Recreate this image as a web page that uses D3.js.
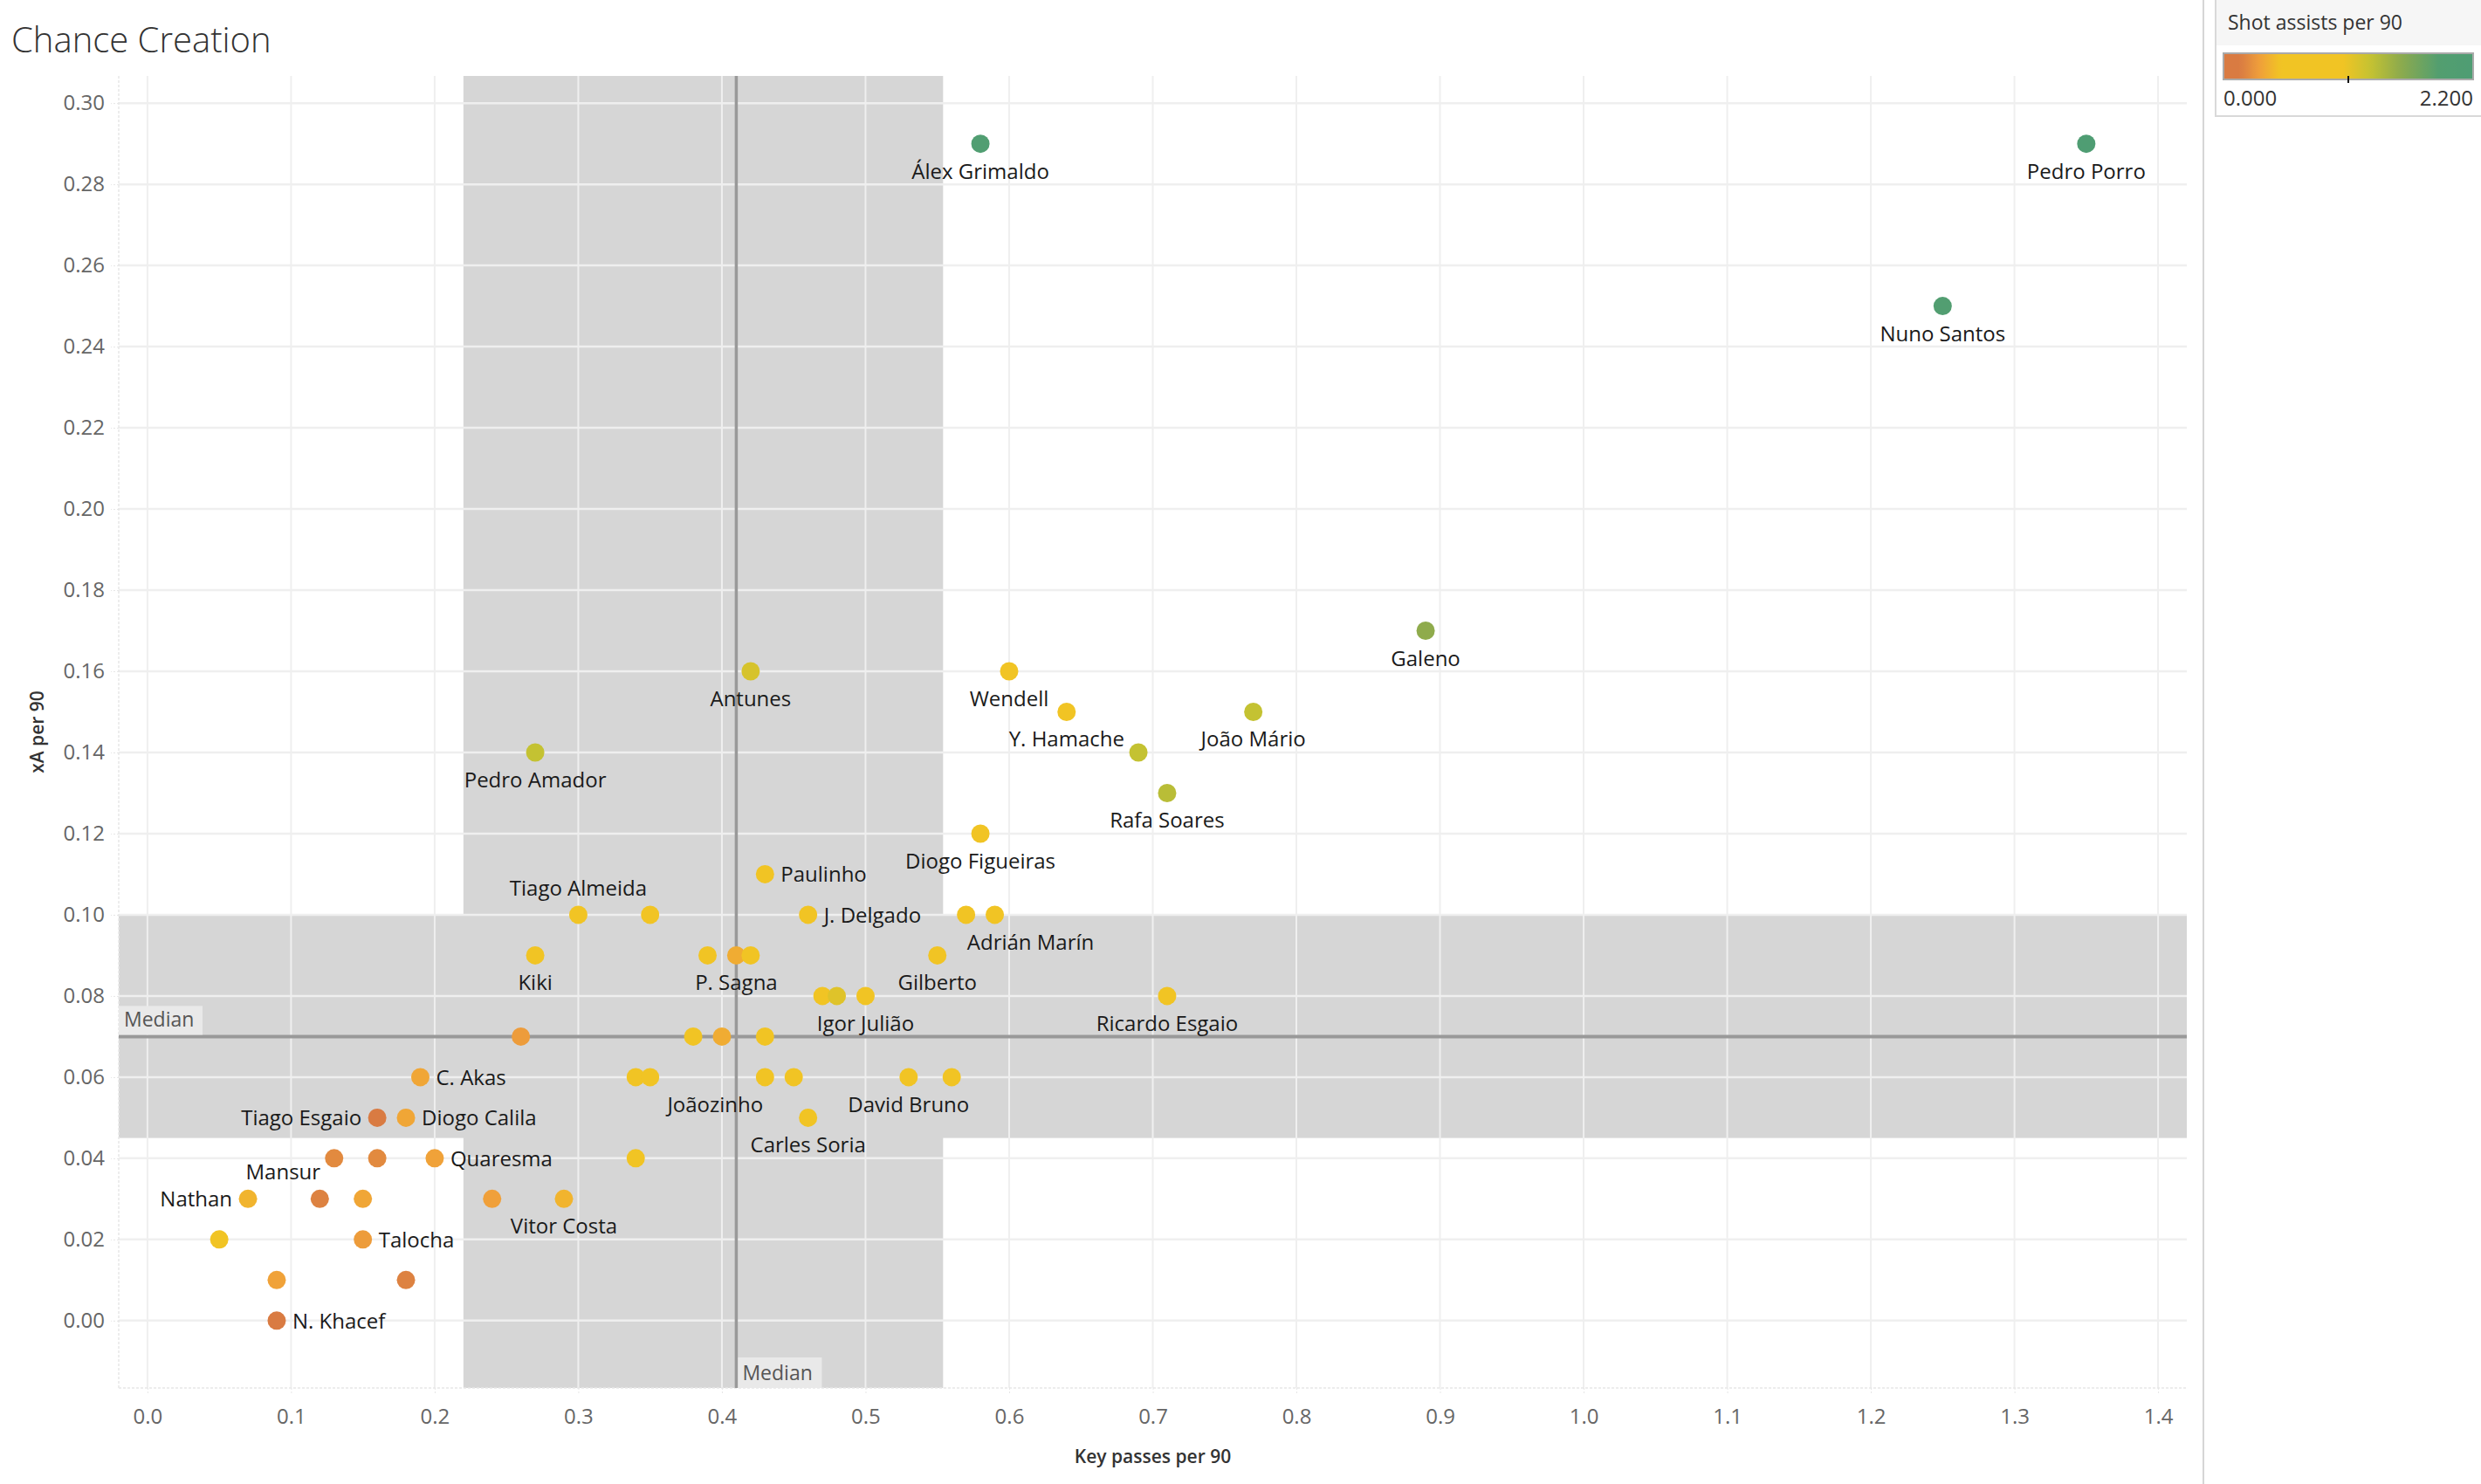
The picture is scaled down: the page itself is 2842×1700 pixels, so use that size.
<!DOCTYPE html>
<html><head><meta charset="utf-8">
<script src="https://cdn.jsdelivr.net/npm/d3@7/dist/d3.min.js"></script>
<style>
body{margin:0;background:#fff;}
svg{display:block;font-family:"Open Sans",sans-serif;}
</style>
</head><body>
<svg id="chart" width="2842" height="1700"></svg>
<script>
// ---------------- data ----------------
const players = ["Álex Grimaldo","Pedro Porro","Nuno Santos","Galeno","Antunes","Wendell","Y. Hamache","João Mário","","Rafa Soares",
  "Pedro Amador","Diogo Figueiras","Paulinho","Tiago Almeida","","J. Delgado","","Adrián Marín","Kiki","",
  "P. Sagna","","Gilberto","","","Igor Julião","Ricardo Esgaio","","","",
  "","C. Akas","","","Joãozinho","","David Bruno","","Tiago Esgaio","Diogo Calila",
  "Carles Soria","","","Quaresma","","Nathan","Mansur","","","Vitor Costa",
  "","Talocha","","","N. Khacef"];
const keyPasses = [0.58,1.35,1.25,0.89,0.42,0.60,0.64,0.77,0.69,0.71,
  0.27,0.58,0.43,0.30,0.35,0.46,0.57,0.59,0.27,0.39,
  0.41,0.42,0.55,0.47,0.48,0.50,0.71,0.26,0.38,0.40,
  0.43,0.19,0.34,0.35,0.43,0.45,0.53,0.56,0.16,0.18,
  0.46,0.13,0.16,0.20,0.34,0.07,0.12,0.15,0.24,0.29,
  0.05,0.15,0.09,0.18,0.09];
const xaPer90 = [0.29,0.29,0.25,0.17,0.16,0.16,0.15,0.15,0.14,0.13,
  0.14,0.12,0.11,0.10,0.10,0.10,0.10,0.10,0.09,0.09,
  0.09,0.09,0.09,0.08,0.08,0.08,0.08,0.07,0.07,0.07,
  0.07,0.06,0.06,0.06,0.06,0.06,0.06,0.06,0.05,0.05,
  0.05,0.04,0.04,0.04,0.04,0.03,0.03,0.03,0.03,0.03,
  0.02,0.02,0.01,0.01,0.00];
const shotAssists = [2.05,2.2,1.95,1.55,1.2,0.8,0.8,1.3,1.3,1.35,
  1.3,0.8,0.8,0.8,0.55,0.8,0.8,0.8,0.8,0.8,
  0.38,0.8,0.8,0.8,1.15,0.8,0.8,0.3,1.0,0.38,
  0.55,0.35,0.8,0.8,0.8,0.8,0.8,0.8,0.15,0.35,
  0.8,0.22,0.22,0.33,0.8,0.42,0.18,0.35,0.32,0.42,
  0.7,0.3,0.33,0.18,0.1];

const xTickValues = [0,0.1,0.2,0.3,0.4,0.5,0.6,0.7,0.8,0.9,1.0,1.1,1.2,1.3,1.4];
const yTickValues = [0,0.02,0.04,0.06,0.08,0.10,0.12,0.14,0.16,0.18,0.20,0.22,0.24,0.26,0.28,0.30];
const medianKeyPasses = 0.41;
const medianXA = 0.07;
const bandKeyPasses = [0.22, 0.554];
const bandXA = [0.045, 0.10];
const legendRange = [0, 2.2];

// colour scale config
const colorStops = [0, 0.15, 0.32, 0.5, 1.05, 1.3, 1.55, 1.9, 2.2];
const colorValues = ["#d97b42","#d97b42","#f0a03a","#f1c424","#f1c424","#c4c232","#8fab4c","#529e70","#4f9d73"];

// label placement (layout)
const labelSide = {
  "Paulinho":"right","J. Delgado":"right","C. Akas":"right","Diogo Calila":"right","Quaresma":"right","Talocha":"right","N. Khacef":"right",
  "Tiago Esgaio":"left","Nathan":"left","Tiago Almeida":"above","Mansur":"above"
};
const labelShift = {"Adrián Marín":41,"Joãozinho":-57,"Mansur":-42};

// ---------------- drawing ----------------
const svg = d3.select("#chart");
const W = 2842, H = 1700;
const plot = {left:136, right:2505, top:87, bottom:1590};

const x = d3.scaleLinear().domain([-0.02, 1.42]).range([plot.left, plot.right]);
const y = d3.scaleLinear().domain([-0.0166, 0.3067]).range([plot.bottom, plot.top]);
const color = d3.scaleLinear().domain(colorStops).range(colorValues).clamp(true);

svg.append("rect").attr("width",W).attr("height",H).attr("fill","#fff");

// title
svg.append("text").attr("x",13).attr("y",60).attr("font-size",40).attr("font-weight",300)
  .attr("fill","#333").text("Chance Creation");

// bands
svg.append("rect").attr("x",x(bandKeyPasses[0])).attr("y",plot.top)
  .attr("width",x(bandKeyPasses[1])-x(bandKeyPasses[0])).attr("height",plot.bottom-plot.top).attr("fill","#d6d6d6");
svg.append("rect").attr("x",plot.left).attr("y",y(bandXA[1]))
  .attr("width",plot.right-plot.left).attr("height",y(bandXA[0])-y(bandXA[1])).attr("fill","#d6d6d6");

// grid
const grid = svg.append("g");
grid.selectAll("line.v").data(xTickValues).enter().append("line")
  .attr("x1",d=>x(d)).attr("x2",d=>x(d)).attr("y1",plot.top).attr("y2",plot.bottom)
  .attr("stroke","#efefef").attr("stroke-width",2);
grid.selectAll("line.h").data(yTickValues).enter().append("line")
  .attr("x1",plot.left).attr("x2",plot.right).attr("y1",d=>y(d)).attr("y2",d=>y(d))
  .attr("stroke","#efefef").attr("stroke-width",2.5);

// faint plot borders
svg.append("line").attr("x1",plot.left).attr("x2",plot.left).attr("y1",plot.top).attr("y2",plot.bottom)
  .attr("stroke","#e8e8e8").attr("stroke-width",1.5).attr("stroke-dasharray","3,2");
svg.append("line").attr("x1",plot.left).attr("x2",plot.right).attr("y1",plot.bottom).attr("y2",plot.bottom)
  .attr("stroke","#e8e8e8").attr("stroke-width",1.5).attr("stroke-dasharray","3,2");

// axes
const xAxis = d3.axisBottom(x).tickValues(xTickValues).tickFormat(d3.format(".1f")).tickSize(8).tickPadding(16);
const gx = svg.append("g").attr("transform",`translate(0,${plot.bottom})`).call(xAxis);
gx.select(".domain").remove();
gx.selectAll(".tick line").attr("stroke","#e6e6e6").attr("stroke-dasharray","2,2");
gx.selectAll(".tick text").attr("font-size",24).attr("fill","#666").attr("font-family","Open Sans");

const yAxis = d3.axisLeft(y).tickValues(yTickValues).tickFormat(d3.format(".2f")).tickSize(9).tickPadding(7);
const gy = svg.append("g").attr("transform",`translate(${plot.left},0)`).call(yAxis);
gy.select(".domain").remove();
gy.selectAll(".tick line").attr("stroke","#e6e6e6").attr("stroke-dasharray","2,2");
gy.selectAll(".tick text").attr("font-size",24).attr("fill","#666").attr("font-family","Open Sans");

svg.append("text").attr("x",(plot.left+plot.right)/2).attr("y",1676).attr("text-anchor","middle")
  .attr("font-size",21).attr("font-weight",600).attr("fill","#333").text("Key passes per 90");
svg.append("text").attr("transform",`translate(50,${(plot.top+plot.bottom)/2}) rotate(-90)`)
  .attr("text-anchor","middle").attr("font-size",21).attr("font-weight",600).attr("fill","#333").text("xA per 90");

// median lines
svg.append("line").attr("x1",x(medianKeyPasses)).attr("x2",x(medianKeyPasses)).attr("y1",plot.top).attr("y2",plot.bottom)
  .attr("stroke","#999").attr("stroke-width",3.5);
svg.append("line").attr("x1",plot.left).attr("x2",plot.right).attr("y1",y(medianXA)).attr("y2",y(medianXA))
  .attr("stroke","#999").attr("stroke-width",4);

// median labels
const mlY = y(medianXA) - 2;
svg.append("rect").attr("x",plot.left).attr("y",mlY-33).attr("width",96).attr("height",33).attr("fill","#e9e9e9");
svg.append("text").attr("x",plot.left+6).attr("y",mlY-9).attr("font-size",23).attr("fill","#555").text("Median");
const mlX = x(medianKeyPasses) + 2;
svg.append("rect").attr("x",mlX).attr("y",plot.bottom-35).attr("width",96).attr("height",35).attr("fill","#e9e9e9");
svg.append("text").attr("x",mlX+5).attr("y",plot.bottom-9).attr("font-size",23).attr("fill","#555").text("Median");

// points
const data = players.map((n,i)=>({name:n, kp:keyPasses[i], xa:xaPer90[i], sa:shotAssists[i]}));
svg.append("g").selectAll("circle").data(data).enter().append("circle")
  .attr("cx",d=>x(d.kp)).attr("cy",d=>y(d.xa)).attr("r",10.5)
  .attr("fill",d=>color(d.sa));

// labels
const lab = svg.append("g").attr("font-size",24).attr("fill","#1a1a1a");
data.filter(d=>d.name).forEach(d=>{
  const side = labelSide[d.name] || "below";
  const dx = labelShift[d.name] || 0;
  const px = x(d.kp), py = y(d.xa);
  const t = lab.append("text").text(d.name);
  if (side==="below") t.attr("x",px+dx).attr("y",py+40).attr("text-anchor","middle");
  else if (side==="above") t.attr("x",px+dx).attr("y",py-22).attr("text-anchor","middle");
  else if (side==="right") t.attr("x",px+18).attr("y",py+9).attr("text-anchor","start");
  else t.attr("x",px-18).attr("y",py+9).attr("text-anchor","end");
});

// divider
svg.append("line").attr("x1",2524).attr("x2",2524).attr("y1",0).attr("y2",H).attr("stroke","#d6d6d6").attr("stroke-width",2);

// legend
const lg = svg.append("g");
lg.append("rect").attr("x",2538).attr("y",-3).attr("width",320).attr("height",136).attr("fill","#fff")
  .attr("stroke","#d9d9d9").attr("stroke-width",2);
lg.append("rect").attr("x",2539).attr("y",0).attr("width",303).attr("height",52).attr("fill","#f6f6f6");
lg.append("text").attr("x",2552).attr("y",34).attr("font-size",23).attr("fill","#333").text("Shot assists per 90");

const defs = svg.append("defs");
const grad = defs.append("linearGradient").attr("id","lgGrad").attr("x1","0%").attr("x2","100%");
d3.range(0,1.0001,0.02).forEach(t=>{
  grad.append("stop").attr("offset",(t*100)+"%").attr("stop-color",color(legendRange[0]+t*(legendRange[1]-legendRange[0])));
});
const lx = d3.scaleLinear().domain(legendRange).range([2547, 2833]);
lg.append("rect").attr("x",lx(legendRange[0])).attr("y",61).attr("width",lx(legendRange[1])-lx(legendRange[0])).attr("height",30)
  .attr("fill","url(#lgGrad)").attr("stroke","#aaa").attr("stroke-width",2);
lg.append("line").attr("x1",lx(1.1)).attr("x2",lx(1.1)).attr("y1",87).attr("y2",95).attr("stroke","#111").attr("stroke-width",2);
lg.append("text").attr("x",lx(legendRange[0])).attr("y",121).attr("font-size",24).attr("fill","#333").text(d3.format(".3f")(legendRange[0]));
lg.append("text").attr("x",lx(legendRange[1])).attr("y",121).attr("text-anchor","end").attr("font-size",24).attr("fill","#333").text(d3.format(".3f")(legendRange[1]));
</script>
</body></html>
